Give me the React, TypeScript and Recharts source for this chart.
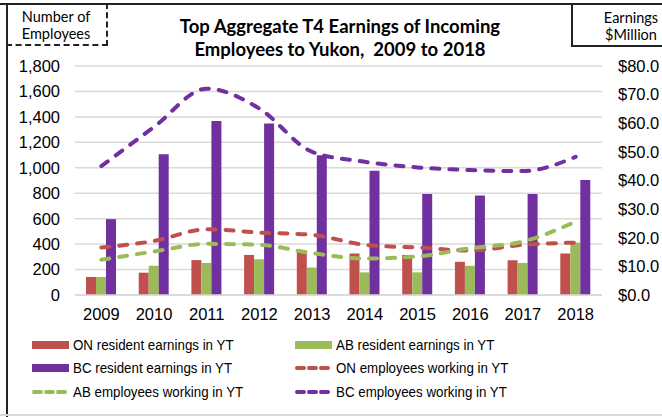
import React from "react";
import {
  ComposedChart,
  Bar,
  Line,
  XAxis,
  YAxis,
  CartesianGrid,
} from "recharts";

const years = ["2009", "2010", "2011", "2012", "2013", "2014", "2015", "2016", "2017", "2018"];

// earnings, $ million (right axis)
const onEarnings = [6.3, 7.8, 12.2, 14.0, 15.5, 14.5, 14.0, 11.6, 12.1, 14.5];
const abEarnings = [6.3, 10.2, 11.2, 12.5, 9.6, 7.9, 7.9, 10.2, 11.2, 18.3];
const bcEarnings = [26.5, 49.2, 60.8, 59.9, 48.8, 43.4, 35.3, 34.8, 35.3, 40.2];

// number of employees (left axis)
const onEmployees = [373, 425, 517, 491, 473, 394, 373, 350, 394, 412];
const abEmployees = [277, 342, 402, 394, 329, 287, 303, 368, 420, 577];
const bcEmployees = [1013, 1321, 1622, 1465, 1125, 1047, 1003, 982, 974, 1086];

const leftTicks = [0, 200, 400, 600, 800, 1000, 1200, 1400, 1600, 1800];
const rightTicks = [0, 10, 20, 30, 40, 50, 60, 70, 80];

const RED = "#C0504D";
const GREEN = "#9BBB59";
const PURPLE = "#7030A0";

const data = years.map((year, i) => ({
  year,
  onE: onEarnings[i],
  abE: abEarnings[i],
  bcE: bcEarnings[i],
  onN: onEmployees[i],
  abN: abEmployees[i],
  bcN: bcEmployees[i],
}));

const tickStyle = { fontFamily: "'Liberation Sans', Arial, sans-serif", fontSize: 16.5, fill: "#000" };
const calibri = "Lato, 'Open Sans', sans-serif";

const legendItems = [
  { label: "ON resident earnings in YT", color: RED, dashed: false },
  { label: "AB resident earnings in YT", color: GREEN, dashed: false },
  { label: "BC resident earnings in YT", color: PURPLE, dashed: false },
  { label: "ON employees working in YT", color: RED, dashed: true },
  { label: "AB employees working in YT", color: GREEN, dashed: true },
  { label: "BC employees working in YT", color: PURPLE, dashed: true },
];

function LegendRow({ label, color, dashed }: { label: string; color: string; dashed: boolean }) {
  return (
    <div style={{ display: "flex", alignItems: "center", height: 23.5 }}>
      <svg width={37} height={10} style={{ marginRight: 4 }}>
        {dashed ? (
          <line x1={2} y1={5} x2={35} y2={5} stroke={color} strokeWidth={4} strokeDasharray="7 5" strokeLinecap="round" />
        ) : (
          <rect x={0} y={1} width={37} height={8} fill={color} />
        )}
      </svg>
      <span
        style={{
          display: "inline-block",
          whiteSpace: "nowrap",
          fontFamily: "'Liberation Sans', Arial, sans-serif",
          fontSize: 15.5,
          transform: "scaleX(0.86)",
          transformOrigin: "left center",
        }}
      >
        {label}
      </span>
    </div>
  );
}

export default function App() {
  return (
    <div style={{ position: "absolute", left: 0, top: 0, width: 662, height: 417, background: "#fff", overflow: "hidden" }}>
      {/* frame */}
      <div style={{ position: "absolute", left: 0, top: 3, width: 662, height: 2, background: "#222" }} />
      <div style={{ position: "absolute", left: 6, top: 3, width: 2, height: 414, background: "#222" }} />
      <div style={{ position: "absolute", left: 0, top: 414, width: 662, height: 2, background: "#d9d9d9" }} />

      <ComposedChart
        width={662}
        height={417}
        data={data}
        margin={{ top: 66, right: 0, bottom: 92, left: 0 }}
        barCategoryGap={11}
        barGap={0}
        style={{ position: "absolute", left: 0, top: 0 }}
      >
        <CartesianGrid yAxisId="left" vertical={false} stroke="#d9d9d9" strokeWidth={1.5} />
        <XAxis
          dataKey="year"
          height={30}
          axisLine={{ stroke: "#d9d9d9", strokeWidth: 1.5 }}
          tickLine={false}
          tickMargin={7}
          tick={tickStyle}
          interval={0}
        />
        <YAxis
          yAxisId="left"
          orientation="left"
          width={75}
          domain={[0, 1800]}
          ticks={leftTicks}
          axisLine={false}
          tickLine={false}
          tickMargin={9}
          tick={tickStyle}
          tickFormatter={(v: number) => v.toLocaleString("en-US")}
        />
        <YAxis
          yAxisId="right"
          orientation="right"
          width={60}
          domain={[0, 80]}
          ticks={rightTicks}
          axisLine={false}
          tickLine={false}
          tickMargin={10}
          tick={{ ...tickStyle, textAnchor: "start" }}
          tickFormatter={(v: number) => `$${v.toFixed(1)}`}
        />
        <Bar yAxisId="right" dataKey="onE" fill={RED} isAnimationActive={false} />
        <Bar yAxisId="right" dataKey="abE" fill={GREEN} isAnimationActive={false} />
        <Bar yAxisId="right" dataKey="bcE" fill={PURPLE} isAnimationActive={false} />
        <Line yAxisId="left" type="monotone" dataKey="onN" stroke={RED} strokeWidth={4} strokeDasharray="8 10" strokeLinecap="round" dot={false} activeDot={false} isAnimationActive={false} />
        <Line yAxisId="left" type="monotone" dataKey="abN" stroke={GREEN} strokeWidth={4} strokeDasharray="8 10" strokeLinecap="round" dot={false} activeDot={false} isAnimationActive={false} />
        <Line yAxisId="left" type="monotone" dataKey="bcN" stroke={PURPLE} strokeWidth={4} strokeDasharray="8 10" strokeLinecap="round" dot={false} activeDot={false} isAnimationActive={false} />
      </ComposedChart>

      {/* title */}
      <div
        style={{
          position: "absolute",
          left: 110,
          width: 460,
          top: 15,
          textAlign: "center",
          fontFamily: calibri,
          fontWeight: 700,
          fontSize: 18.5,
          lineHeight: "23px",
          whiteSpace: "pre",
        }}
      >
        {"Top Aggregate T4 Earnings of Incoming\nEmployees to Yukon,  2009 to 2018"}
      </div>

      {/* axis title boxes */}
      <div
        style={{
          position: "absolute",
          left: 6,
          top: 3,
          width: 100,
          height: 36,
          borderRight: "2.5px dashed #222",
          borderBottom: "2.5px dashed #222",
          fontFamily: calibri,
          fontSize: 14.5,
          lineHeight: "17px",
          textAlign: "center",
          paddingTop: 5,
        }}
      >
        Number of
        <br />
        Employees
      </div>
      <div
        style={{
          position: "absolute",
          left: 571,
          top: 3,
          width: 100,
          height: 36,
          border: "2px solid #222",
          paddingTop: 4,
          fontFamily: calibri,
          fontSize: 14.5,
          lineHeight: "17px",
        }}
      >
        <div style={{ width: 116, textAlign: "center" }}>
          Earnings
          <br />
          $Million
        </div>
      </div>

      {/* legend */}
      <div style={{ position: "absolute", left: 32, top: 333, width: 263 }}>
        {[0, 2, 4].map((i) => (
          <LegendRow key={i} {...legendItems[i]} />
        ))}
      </div>
      <div style={{ position: "absolute", left: 295, top: 333, width: 300 }}>
        {[1, 3, 5].map((i) => (
          <LegendRow key={i} {...legendItems[i]} />
        ))}
      </div>
    </div>
  );
}
